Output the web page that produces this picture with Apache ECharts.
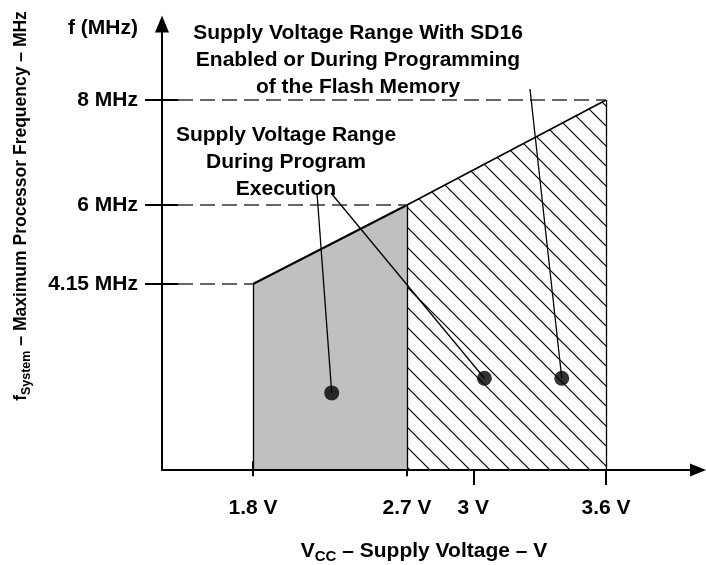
<!DOCTYPE html>
<html>
<head>
<meta charset="utf-8">
<script src="https://cdn.jsdelivr.net/npm/echarts@6/dist/echarts.min.js"></script>
<style>
  html, body { margin: 0; padding: 0; background: #fff; }
  #chart { width: 706px; height: 565px; }
</style>
</head>
<body>
<div id="chart"></div>
<script>
// values
const voltTicks = [1.8, 2.7, 3, 3.6];
const voltLabels = ['1.8 V', '2.7 V', '3 V', '3.6 V'];
const freqTicks = [4.15, 6, 8];
const freqLabels = ['4.15 MHz', '6 MHz', '8 MHz'];
const execEdge = [[1.8, 4.15], [2.7, 6]];   // top of grey area
const flashEdge = [[2.7, 6], [3.6, 8]];     // top of hatched area
const execDots = [[2.26, 1.6]];
const flashDots = [[3.05, 2.7], [3.4, 2.7]];

// the figure is not drawn to scale, so each band gets its own grid (px)
const AX_X = 162, AX_Y = 470, TICK_X = 178;
const X18 = 253, X27 = 407, X36 = 606;
const Y415 = 284, Y6 = 205, Y8 = 100;
const lowMin = 6 - (AX_Y - Y6) * (6 - 4.15) / (Y415 - Y6);
const highMin = 8 - (AX_Y - Y8) * (8 - 6) / (Y6 - Y8);

const FONT = '"Liberation Sans", Arial, Helvetica, sans-serif';
const txt = { color: '#000', fontFamily: FONT, fontWeight: 'bold', fontSize: 21 };

function hatch() {
  const c = document.createElement('canvas');
  c.width = 20; c.height = 20;
  const g = c.getContext('2d');
  g.strokeStyle = '#000';
  g.lineWidth = 1.2;
  g.beginPath();
  g.moveTo(-2, -2); g.lineTo(22, 22);
  g.moveTo(-2, 18); g.lineTo(2, 22);
  g.moveTo(18, -2); g.lineTo(22, 2);
  g.stroke();
  return c;
}

const voltFmt = v => voltLabels[voltTicks.indexOf(v)];
const freqFmt = v => freqLabels[freqTicks.indexOf(v)];

const dashed = { type: [15, 7], color: '#333', width: 1.5 };
const solid = { type: 'solid', color: '#000', width: 1.3 };

function bandX(idx, min, max, vals) {
  return {
    gridIndex: idx, type: 'value', min: min, max: max,
    axisLine: { show: false }, splitLine: { show: false },
    axisTick: { show: true, inside: false, length: 15, customValues: vals, lineStyle: { color: '#000', width: 2 } },
    axisLabel: { customValues: vals, formatter: voltFmt, margin: 28, showMinLabel: true, showMaxLabel: true, ...txt }
  };
}
function bandY(idx, min, max, vals, offset) {
  return {
    gridIndex: idx, type: 'value', min: min, max: max, offset: offset,
    axisLine: { show: false }, splitLine: { show: false },
    axisTick: { show: true, inside: false, length: 33, customValues: vals, lineStyle: { color: '#000', width: 2 } },
    axisLabel: { customValues: vals, formatter: freqFmt, margin: 40, showMinLabel: true, showMaxLabel: true, ...txt }
  };
}

const chart = echarts.init(document.getElementById('chart'));
chart.setOption({
  animation: false,
  backgroundColor: '#fff',
  grid: [
    { left: AX_X, right: 8, top: 24, bottom: 565 - AX_Y },
    { left: X18, right: 706 - X27, top: Y6, bottom: 565 - AX_Y },
    { left: X27, right: 706 - X36, top: Y8, bottom: 565 - AX_Y }
  ],
  xAxis: [
    {
      gridIndex: 0, type: 'value', min: 0, max: 1, z: 5,
      axisLine: { show: true, symbol: ['none', 'triangle'], symbolSize: [13, 16], lineStyle: { color: '#000', width: 2 } },
      axisTick: { show: false }, axisLabel: { show: false }, splitLine: { show: false }
    },
    bandX(1, 1.8, 2.7, voltTicks.slice(0, 2)),
    bandX(2, 2.7, 3.6, voltTicks.slice(2))
  ],
  yAxis: [
    {
      gridIndex: 0, type: 'value', min: 0, max: 1, z: 5,
      axisLine: { show: true, symbol: ['none', 'triangle'], symbolSize: [14, 17], lineStyle: { color: '#000', width: 2 } },
      axisTick: { show: false }, axisLabel: { show: false }, splitLine: { show: false }
    },
    bandY(1, lowMin, 6, freqTicks.slice(0, 2), X18 - TICK_X),
    bandY(2, highMin, 8, freqTicks.slice(2), X27 - TICK_X)
  ],
  series: [
    {
      type: 'line', xAxisIndex: 1, yAxisIndex: 1, data: execEdge, symbol: 'none', clip: false,
      lineStyle: { color: '#000', width: 2 },
      areaStyle: { color: '#c0c0c0', opacity: 1, origin: 'start' },
      markLine: {
        silent: true, symbol: ['none', 'none'], label: { show: false },
        data: [
          [{ x: TICK_X, xAxis: 1.8, yAxis: 4.15, lineStyle: dashed }, { xAxis: 1.8, yAxis: 4.15 }],
          [{ x: TICK_X, xAxis: 2.7, yAxis: 6, lineStyle: dashed }, { xAxis: 2.7, yAxis: 6 }],
          [{ xAxis: 1.8, yAxis: lowMin, lineStyle: solid }, { xAxis: 1.8, yAxis: 4.15 }],
          [{ xAxis: 2.7, yAxis: lowMin, lineStyle: solid }, { xAxis: 2.7, yAxis: 6 }]
        ]
      }
    },
    {
      type: 'line', xAxisIndex: 2, yAxisIndex: 2, data: flashEdge, symbol: 'none', clip: false,
      lineStyle: { color: '#000', width: 1.6 },
      areaStyle: { color: { image: hatch(), repeat: 'repeat' }, opacity: 1, origin: 'start' },
      markLine: {
        silent: true, symbol: ['none', 'none'], label: { show: false },
        data: [
          [{ x: TICK_X, xAxis: 3.6, yAxis: 8, lineStyle: dashed }, { xAxis: 3.6, yAxis: 8 }],
          [{ xAxis: 3.6, yAxis: highMin, lineStyle: solid }, { xAxis: 3.6, yAxis: 8 }]
        ]
      }
    },
    {
      type: 'scatter', xAxisIndex: 1, yAxisIndex: 1, data: execDots, symbolSize: 15, clip: false, z: 4,
      itemStyle: { color: '#000' },
      markLine: {
        silent: true, symbol: ['none', 'none'], label: { show: false },
        lineStyle: { type: 'solid', color: '#000', width: 1.3 },
        data: [[{ x: 317, y: 193 }, { coord: execDots[0] }]]
      }
    },
    {
      type: 'scatter', xAxisIndex: 2, yAxisIndex: 2, data: flashDots, symbolSize: 15, clip: false, z: 4,
      itemStyle: { color: '#000' },
      markLine: {
        silent: true, symbol: ['none', 'none'], label: { show: false },
        lineStyle: { type: 'solid', color: '#000', width: 1.3 },
        data: [
          [{ x: 331, y: 193 }, { coord: flashDots[0] }],
          [{ x: 530, y: 89 }, { coord: flashDots[1] }]
        ]
      }
    }
  ],
  graphic: [
    {
      type: 'text', x: 358, y: 20, z: 10,
      style: { ...txt, text: 'Supply Voltage Range With SD16\nEnabled or During Programming\nof the Flash Memory', align: 'center', verticalAlign: 'top', lineHeight: 27 }
    },
    {
      type: 'text', x: 286, y: 122, z: 10,
      style: { ...txt, text: 'Supply Voltage Range\nDuring Program\nExecution', align: 'center', verticalAlign: 'top', lineHeight: 27 }
    },
    {
      type: 'text', x: 103, y: 28, z: 10,
      style: { ...txt, text: 'f (MHz)', align: 'center', verticalAlign: 'middle' }
    },
    {
      type: 'text', x: 424, y: 551, z: 10,
      style: {
        ...txt, text: 'V{s|CC} – Supply Voltage – V', align: 'center', verticalAlign: 'middle', lineHeight: 20,
        rich: { s: { ...txt, fontSize: 15, verticalAlign: 'bottom', lineHeight: 15, padding: [0, 0, -3, 0] } }
      }
    },
    {
      type: 'text', x: 21, y: 206, rotation: Math.PI / 2, z: 10,
      style: {
        ...txt, fontSize: 17.5, text: 'f{s|System} – Maximum Processor Frequency – MHz', align: 'center', verticalAlign: 'middle', lineHeight: 18,
        rich: { s: { ...txt, fontSize: 12.5, verticalAlign: 'bottom', lineHeight: 12.5, padding: [0, 0, -3, 0] } }
      }
    }
  ]
});
</script>
</body>
</html>
